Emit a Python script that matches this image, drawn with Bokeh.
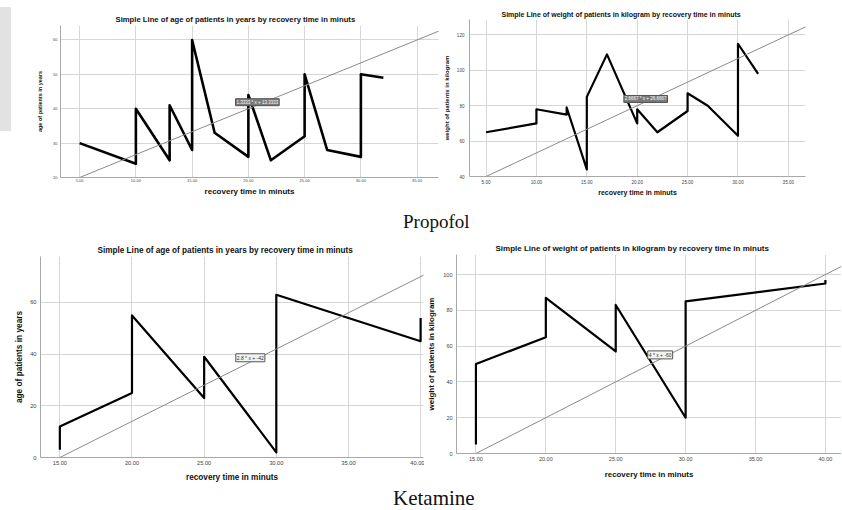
from bokeh.plotting import figure
from bokeh.models import Range1d, FixedTicker, NumeralTickFormatter, Slope, Label, Div
from bokeh.layouts import column, row
from bokeh.embed import file_html
from bokeh.resources import INLINE

# ---------------- data ----------------
# Propofol: age vs recovery time
prop_age_time = [5, 10, 10, 13, 13, 15, 15, 17, 20, 20, 22, 25, 25, 27, 30, 30, 32]
prop_age_val = [30, 24, 40, 25, 41, 28, 60, 33, 26, 44, 25, 32, 50, 28, 26, 50, 49]
prop_age_fit = [1.3333, 13.3333]
prop_age_eq = "1.3333 * x + 13.3333"

# Propofol: weight vs recovery time
prop_wt_time = [5, 10, 10, 13, 13, 15, 15, 17, 20, 20, 22, 25, 25, 27, 30, 30, 32]
prop_wt_val = [65, 70, 78, 75, 79, 44, 85, 109, 70, 78, 65, 77, 87, 80, 63, 115, 98]
prop_wt_fit = [2.6667, 26.6667]
prop_wt_eq = "2.6667 * x + 26.6667"

# Ketamine: age vs recovery time
ket_age_time = [15, 15, 20, 20, 25, 25, 30, 30, 40, 40]
ket_age_val = [3, 12, 25, 55, 23, 39, 2, 63, 45, 54]
ket_age_fit = [2.8, -42]
ket_age_eq = "2.8 * x + -42"

# Ketamine: weight vs recovery time
ket_wt_time = [15, 15, 20, 20, 25, 25, 30, 30, 40, 40]
ket_wt_val = [5, 50, 65, 87, 57, 83, 20, 85, 95, 97]
ket_wt_fit = [4, -60]
ket_wt_eq = "4 * x + -60"

prop_x_ticks = [5, 10, 15, 20, 25, 30, 35]
ket_x_ticks = [15, 20, 25, 30, 35, 40]
prop_age_y_ticks = [20, 30, 40, 50, 60]
prop_wt_y_ticks = [40, 60, 80, 100, 120]
ket_age_y_ticks = [0, 20, 40, 60]
ket_wt_y_ticks = [0, 20, 40, 60, 80, 100]

title_age = "Simple Line of age of patients in years by recovery time in minuts"
title_wt = "Simple Line of weight of patients in kilogram by recovery time in minuts"
x_label = "recovery time in minuts"
y_label_age = "age of patients in years"
y_label_wt = "weight of patients in kilogram"
caption_top = "Propofol"
caption_bottom = "Ketamine"

FONT = "Liberation Sans"


def panel(xs, ys, fit, eq, xticks, yticks, title, ylabel, s):
    p = figure(width=s["w"], height=s["h"], output_backend="svg", toolbar_location=None,
               x_range=Range1d(*s["xr"]), y_range=Range1d(*s["yr"]),
               min_border_left=s["bl"], min_border_right=s["br"],
               min_border_top=s["bt"], min_border_bottom=s["bb"], margin=0)
    p.outline_line_color = None
    p.background_fill_color = "white"
    p.border_fill_color = "white"

    p.title.text = title
    p.title.align = "left"
    p.title.offset = s["toff"]
    p.title.standoff = s["tstand"]
    p.title.text_font = FONT
    p.title.text_font_style = "bold"
    p.title.text_font_size = s["tfs"]
    p.title.text_color = "#111111"

    p.xaxis.ticker = FixedTicker(ticks=xticks)
    p.xaxis.formatter = NumeralTickFormatter(format="0.00")
    p.yaxis.ticker = FixedTicker(ticks=yticks)
    p.xaxis.axis_label = x_label
    p.yaxis.axis_label = ylabel
    for ax in (p.xaxis, p.yaxis):
        ax.major_tick_out = 0
        ax.major_tick_in = 0
        ax.minor_tick_out = 0
        ax.minor_tick_in = 0
        ax.axis_line_color = "#a8a8a8"
        ax.axis_line_width = 1
        ax.major_label_text_font = FONT
        ax.major_label_text_font_size = s["tickfs"]
        ax.major_label_text_color = "#444444"
        ax.axis_label_text_font = FONT
        ax.axis_label_text_font_style = "bold"
        ax.axis_label_text_color = "#111111"
    p.xaxis.axis_label_text_font_size = s["xlfs"]
    p.yaxis.axis_label_text_font_size = s["ylfs"]
    p.xaxis.major_label_standoff = s["xts"]
    p.yaxis.major_label_standoff = s["yts"]
    p.xaxis.axis_label_standoff = s["xls"]
    p.yaxis.axis_label_standoff = s["yls"]

    p.xgrid.ticker = FixedTicker(ticks=xticks)
    p.ygrid.ticker = FixedTicker(ticks=yticks)
    p.grid.grid_line_color = "#d6d6d6"
    p.grid.grid_line_width = 1

    p.add_layout(Slope(gradient=fit[0], y_intercept=fit[1], line_color="#8a8a8a", line_width=1))
    p.line(xs, ys, line_color="black", line_width=s["lw"], line_join="round")

    if s["dark"]:
        bg, bc, tc = "#7a7a7a", "#555555", "white"
    else:
        bg, bc, tc = "#f2f2f2", "#555555", "#333333"
    p.add_layout(Label(x=s["eq_x"], y=s["eq_y"], text=eq, text_align="center",
                       text_baseline="middle", text_font=FONT, text_font_size=s["eqfs"],
                       text_color=tc, background_fill_color=bg, border_line_color=bc,
                       border_line_width=1, padding=1))
    return p


tl = panel(prop_age_time, prop_age_val, prop_age_fit, prop_age_eq, prop_x_ticks, prop_age_y_ticks,
           title_age, y_label_age,
           dict(w=429, h=204, bl=49, br=2, bt=25, bb=27, xr=(3.3, 36.9), yr=(20, 64.2),
                toff=55, tstand=3, tfs="7.7px", tickfs="4px", xlfs="8px", ylfs="5.5px",
                xts=1, yts=3, xls=2, yls=7, lw=2.6, dark=True, eq_x=20.8, eq_y=41.9, eqfs="4.5px"))

tr = panel(prop_wt_time, prop_wt_val, prop_wt_fit, prop_wt_eq, prop_x_ticks, prop_wt_y_ticks,
           title_wt, y_label_wt,
           dict(w=402, h=204, bl=25, br=37, bt=19, bb=28, xr=(3.36, 36.7), yr=(40, 128.7),
                toff=32, tstand=3, tfs="7px", tickfs="4.6px", xlfs="7px", ylfs="6px",
                xts=3, yts=5, xls=2, yls=4, lw=2.2, dark=True, eq_x=20.84, eq_y=83.8, eqfs="4.5px"))

bl = panel(ket_age_time, ket_age_val, ket_age_fit, ket_age_eq, ket_x_ticks, ket_age_y_ticks,
           title_age, y_label_age,
           dict(w=424, h=248, bl=40, br=1, bt=16, bb=31, xr=(13.66, 40.2), yr=(0, 77.8),
                toff=57, tstand=3, tfs="8.2px", tickfs="5.7px", xlfs="8.2px", ylfs="8.3px",
                xts=3, yts=4, xls=5, yls=3, lw=2.2, dark=False, eq_x=28.2, eq_y=38.6, eqfs="5px"))

br = panel(ket_wt_time, ket_wt_val, ket_wt_fit, ket_wt_eq, ket_x_ticks, ket_wt_y_ticks,
           title_wt, y_label_wt,
           dict(w=417, h=248, bl=28, br=0, bt=14, bb=35, xr=(13.61, 41.15), yr=(0, 111.2),
                toff=39, tstand=3, tfs="8px", tickfs="5.5px", xlfs="7.9px", ylfs="8px",
                xts=3, yts=4, xls=6, yls=4, lw=2.2, dark=False, eq_x=28.18, eq_y=55.1, eqfs="5px"))

gray = Div(text='<div style="margin-top:7px;width:11px;height:124px;background:#e2e2e2"></div>',
           width=11, height=204, margin=0)
cap1 = Div(text=('<div style="font-family:\'Liberation Serif\';font-size:19px;line-height:19px;'
                 'padding-left:403px;padding-top:8px;color:#111;white-space:nowrap">%s</div>' % caption_top),
           width=841, height=36, margin=0)
cap2 = Div(text=('<div style="font-family:\'Liberation Serif\';font-size:21px;line-height:19px;'
                 'padding-left:393px;padding-top:1px;color:#111;white-space:nowrap">%s</div>' % caption_bottom),
           width=841, height=21, margin=0)

top_row = row(gray, column(tl, margin=0), column(tr, margin=0), margin=0)
bottom_row = row(column(bl, margin=0), column(br, margin=0), margin=0)
layout = column(top_row, cap1, bottom_row, cap2, margin=0)
open("out.html", "w").write(file_html(layout, INLINE))
